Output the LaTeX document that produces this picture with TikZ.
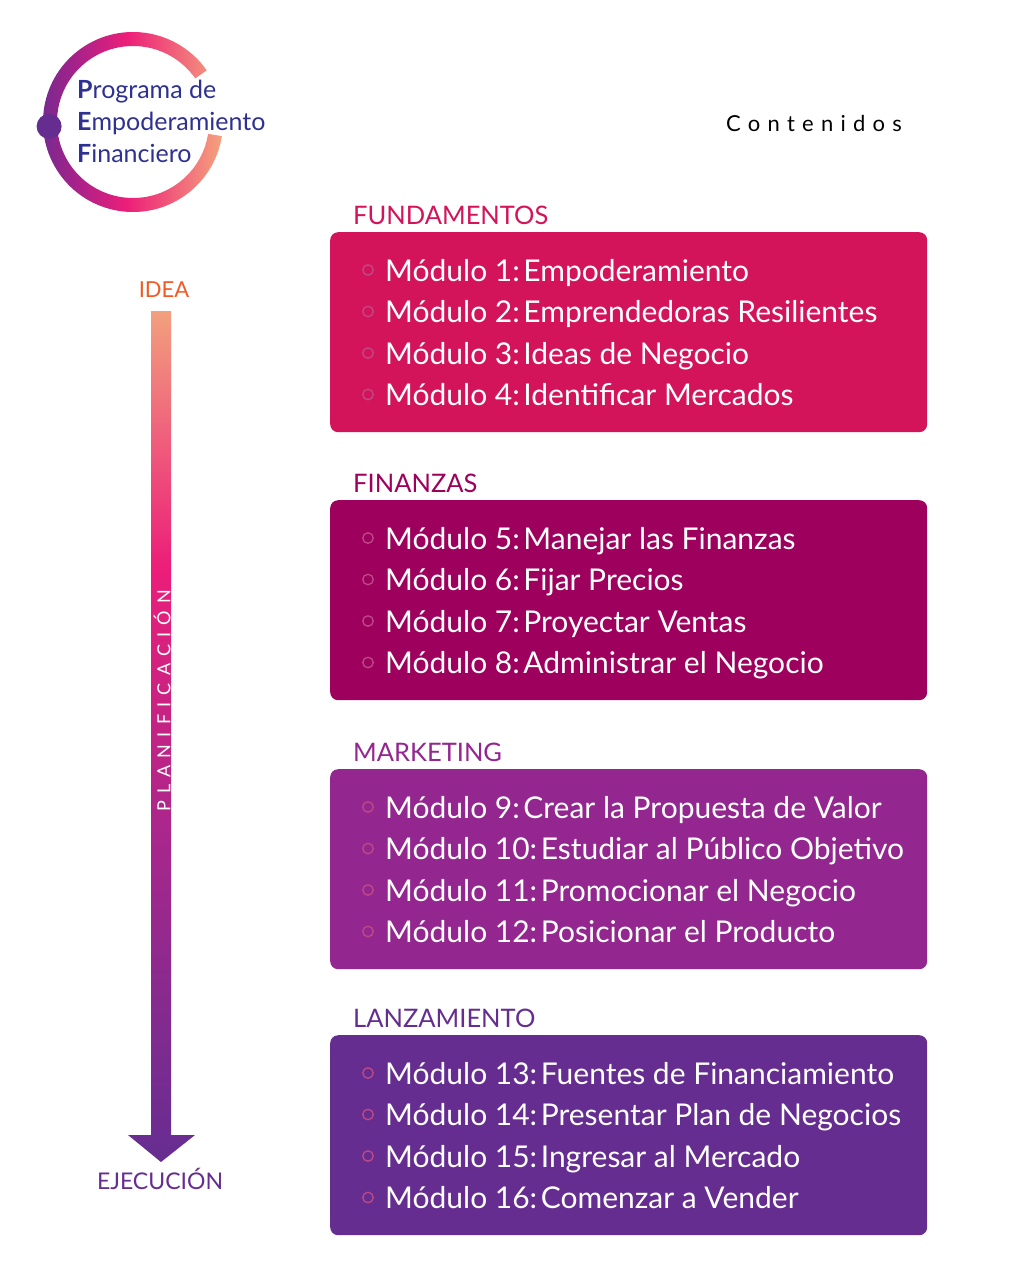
\documentclass[tikz,border=0pt]{standalone}
\usepackage{fontspec}
\setmainfont{Lato}
\newfontfamily\widefont[LetterSpace=33]{Lato}
\newfontfamily\planfont[LetterSpace=40]{Lato}
\usetikzlibrary{positioning}
\definecolor{fundcol}{HTML}{D4145A}
\definecolor{fincol}{HTML}{9E005D}
\definecolor{markcol}{HTML}{93278F}
\definecolor{lanzcol}{HTML}{662D91}
\definecolor{ideacol}{HTML}{F15A24}
\definecolor{logocol}{HTML}{2E3192}
\definecolor{bulletcol}{HTML}{C04A86}
\definecolor{plantop}{HTML}{F2A07E}
\definecolor{planmid}{HTML}{EC1E79}
\definecolor{planlow}{HTML}{A8278C}
\definecolor{ringmag}{HTML}{A3228A}
\definecolor{ringsal}{HTML}{F5A27C}
\pgfdeclareverticalshading{planshade}{100bp}{color(0bp)=(lanzcol); color(25bp)=(lanzcol); color(44bp)=(planlow); color(60bp)=(planmid); color(75bp)=(plantop); color(100bp)=(plantop)}
\pgfdeclarehorizontalshading{ringshade}{100bp}{color(0bp)=(lanzcol); color(25bp)=(lanzcol); color(36bp)=(ringmag); color(50bp)=(planmid); color(75bp)=(ringsal); color(100bp)=(ringsal)}
\tikzset{
  section box/.style={rounded corners=8pt,minimum width=597pt,minimum height=200pt,anchor=north west,inner sep=0pt},
  section title/.style={font=\fontsize{25.5}{30}\selectfont,anchor=base west,inner sep=0pt},
  module/.style={font=\fontsize{30}{35}\selectfont,text=white,anchor=base west,inner sep=0pt},
  bullet/.style={circle,draw=bulletcol,line width=1.3pt,minimum size=10.5pt,inner sep=0pt},
  logo line/.style={font=\fontsize{25}{30}\selectfont,text=logocol,anchor=base west,inner sep=0pt}
}
\begin{document}
\begin{tikzpicture}[x=1pt,y=-1pt]
  \path[use as bounding box,fill=white] (0,0) rectangle (1019,1280);
  \begin{scope}[shift={(133,122)},yscale=-1]
    \shade[shading=ringshade] (35:90) arc (35:351:90) -- (351:76) arc (351:35:76) -- cycle;
    \fill[lanzcol] (183:84) circle (12.5);
  \end{scope}
  \node[logo line] (logo1) at (77,98) {{\bfseries P}rograma de};
  \node[logo line] (logo2) at (77,130) {{\bfseries E}mpoderamiento};
  \node[logo line] (logo3) at (77,162) {{\bfseries F}inanciero};
  \node[font=\widefont\fontsize{22}{26}\selectfont,anchor=base west,inner sep=0pt] (contenidos) at (726,131) {Contenidos};
  \node[font=\fontsize{22}{26}\selectfont,text=ideacol,anchor=base,inner sep=0pt] (idea) at (164,297) {IDEA};
  \node[font=\fontsize{23}{27}\selectfont,text=lanzcol,anchor=base,inner sep=0pt] (ejec) at (160,1189) {EJECUCIÓN};
  \shade[shading=planshade] (151,311) -- (171,311) -- (171,1135) -- (195,1135) -- (161,1162) -- (128,1135) -- (151,1135) -- cycle;
  \node[rotate=90,text=white,font=\planfont\fontsize{18}{21}\selectfont,inner sep=0pt] (plan) at (162,701) {PLANIFICACIÓN};
  \foreach \n/\col/\top/\title/\items in {
      1/fundcol/232/FUNDAMENTOS/{Empoderamiento,Emprendedoras Resilientes,Ideas de Negocio,Identificar Mercados},
      2/fincol/500/FINANZAS/{Manejar las Finanzas,Fijar Precios,Proyectar Ventas,Administrar el Negocio},
      3/markcol/769/MARKETING/{Crear la Propuesta de Valor,Estudiar al Público Objetivo,Promocionar el Negocio,Posicionar el Producto},
      4/lanzcol/1035/LANZAMIENTO/{Fuentes de Financiamiento,Presentar Plan de Negocios,Ingresar al Mercado,Comenzar a Vender}}
  {
    \node[section box,fill=\col] (box\n) at (330,\top) {};
    \node[section title,text=\col] (title\n) at (353,\top-8) {\title};
    \foreach \modname [count=\k] in \items {
      \pgfmathtruncatemacro{\num}{4*(\n-1)+\k}
      \pgfmathsetmacro{\base}{\top+\k*41.5+7.5}
      \node[module] (m\num) at (385,\base) {Módulo \num:\hspace{0.12em}\modname};
      \node[bullet] (b\num) at ([xshift=-17pt,yshift=11pt]m\num.base west) {};
    }
  }
\end{tikzpicture}
\end{document}
